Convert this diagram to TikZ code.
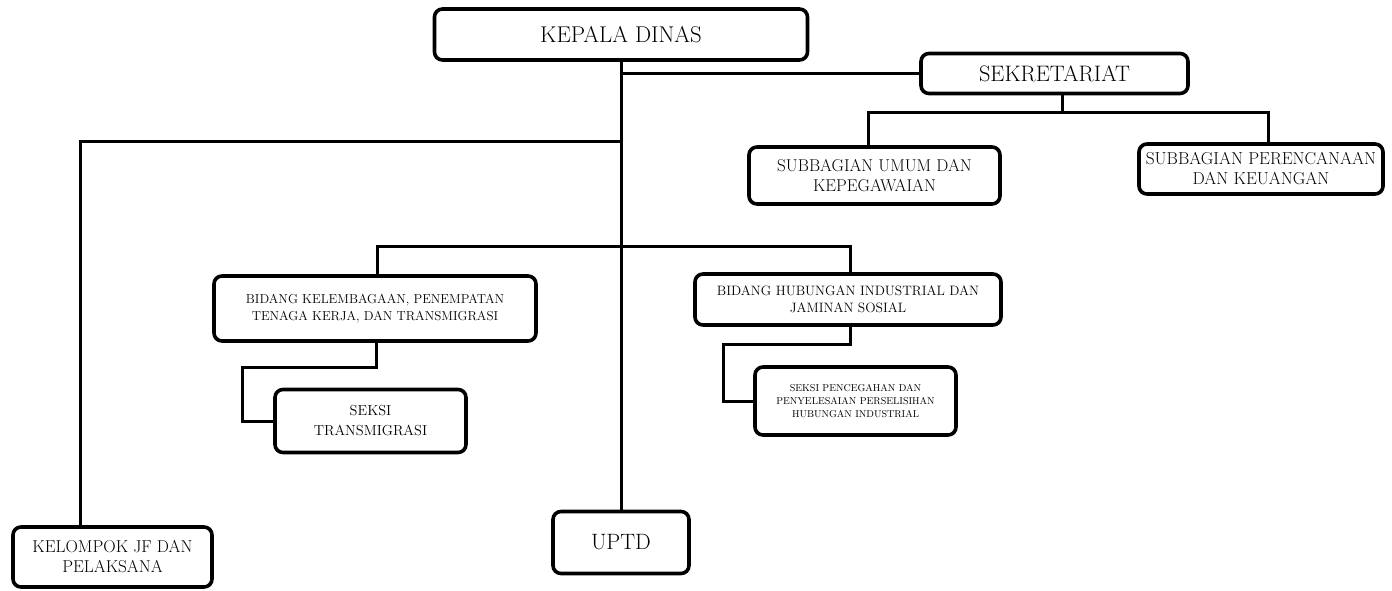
\documentclass[tikz,border=0pt]{standalone}
\usepackage{fontspec}
\begin{document}
\begin{tikzpicture}[x=1pt,y=-1pt,
  box/.style={draw=black,line width=3.6pt,rounded corners=8pt,inner sep=0pt,align=center,text=black},
  conn/.style={draw=black,line width=3pt,line join=miter}]
\useasboundingbox (0,0) rectangle (1392,590);
% boxes
\node[box,minimum width=373pt,minimum height=51pt,font=\fontsize{22.8}{26}\selectfont] (kd) at (621,34.5) {KEPALA DINAS};
\node[box,minimum width=267pt,minimum height=40pt,font=\fontsize{22.4}{26}\selectfont] (sek) at (1054.5,73.5) {SEKRETARIAT};
\node[box,minimum width=251pt,minimum height=57pt,font=\fontsize{17.1}{20}\selectfont] (umum) at (874.5,175.5) {SUBBAGIAN UMUM DAN\\KEPEGAWAIAN};
\node[box,minimum width=244pt,minimum height=50pt,font=\fontsize{17.3}{20}\selectfont] (per) at (1261,169) {SUBBAGIAN PERENCANAAN\\DAN KEUANGAN};
\node[box,minimum width=322pt,minimum height=65pt,font=\fontsize{13}{17}\selectfont] (bkel) at (375,308.5) {BIDANG KELEMBAGAAN, PENEMPATAN\\TENAGA KERJA, DAN TRANSMIGRASI};
\node[box,minimum width=306pt,minimum height=51pt,font=\fontsize{13.6}{17}\selectfont] (bhub) at (848,299.5) {BIDANG HUBUNGAN INDUSTRIAL DAN\\JAMINAN SOSIAL};
\node[box,minimum width=191pt,minimum height=63pt,font=\fontsize{14.5}{20}\selectfont] (strans) at (370.5,421) {SEKSI\\TRANSMIGRASI};
\node[box,minimum width=201pt,minimum height=68pt,font=\fontsize{10}{13}\selectfont] (spenc) at (855.5,401) {SEKSI PENCEGAHAN DAN\\PENYELESAIAN PERSELISIHAN\\HUBUNGAN INDUSTRIAL};
\node[box,minimum width=199pt,minimum height=60pt,font=\fontsize{17.2}{20}\selectfont] (kel) at (112.5,557) {KELOMPOK JF DAN\\PELAKSANA};
\node[box,minimum width=136pt,minimum height=62pt,font=\fontsize{22.2}{26}\selectfont] (uptd) at (621,542.5) {UPTD};
% junction coordinates
\coordinate (sx) at (1062,112);
\coordinate (ux) at (868,112);
\coordinate (px) at (1268,112);
\coordinate (lx) at (80,141);
\coordinate (bl) at (377,246);
\coordinate (br) at (850,246);
\coordinate (a1) at (376,367);
\coordinate (a2) at (242,367);
\coordinate (b1) at (850,344);
\coordinate (b2) at (723,344);
% connectors
\draw[conn] (kd.south) -- (uptd.north);
\draw[conn] (kd.south |- sek.west) -- (sek.west);
\draw[conn] (sek.south -| sx) -- (sx);
\draw[conn] (umum.north -| ux) -- (ux) -- (px) -- (per.north -| px);
\draw[conn] (kd.south |- lx) -- (lx) -- (kel.north -| lx);
\draw[conn] (bkel.north -| bl) -- (bl) -- (br) -- (bhub.north -| br);
\draw[conn] (bkel.south -| a1) -- (a1) -- (a2) |- (strans.west);
\draw[conn] (bhub.south -| b1) -- (b1) -- (b2) |- (spenc.west);
\end{tikzpicture}
\end{document}
